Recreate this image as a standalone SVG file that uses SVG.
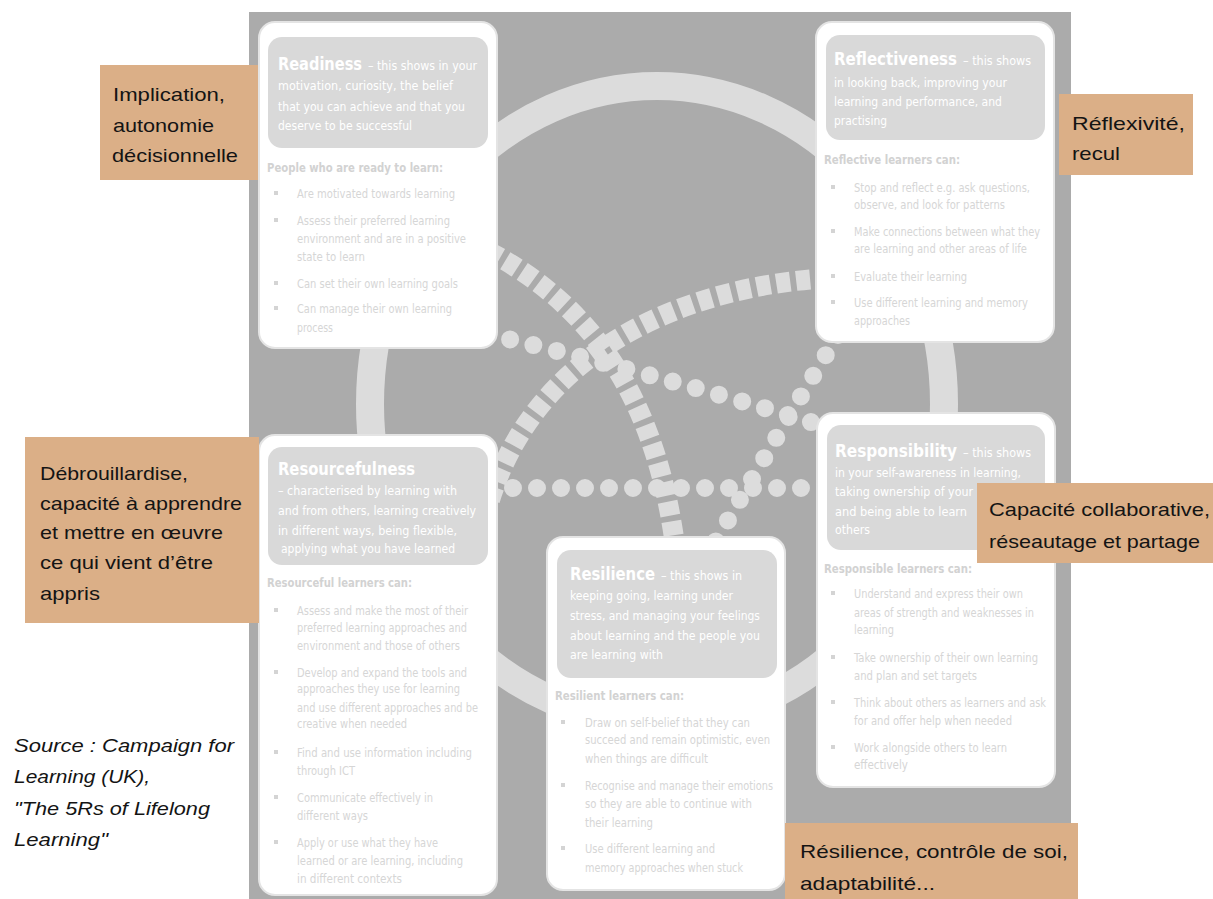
<svg xmlns="http://www.w3.org/2000/svg" width="1213" height="899" viewBox="0 0 1213 899">
<style>
.bg{fill:#ABABAB}
.ring{fill:none;stroke:#DCDCDC;stroke-width:28}
.sq{fill:none;stroke:#DCDCDC;stroke-width:20;stroke-dasharray:14 6}
.dot{fill:none;stroke:#DCDCDC;stroke-width:18;stroke-linecap:round;stroke-dasharray:0 24}
.card{fill:#FFFFFF;stroke:#E4E4E4;stroke-width:2}
.hdr{fill:#D9D9D9}
.bul{fill:#D4D4D4}
text{font-family:"Liberation Sans Narrow","DejaVu Sans Condensed","Liberation Sans",sans-serif}
.ttl{font-size:17px;font-weight:bold;fill:#FFFFFF}
.hd{font-size:13px;fill:#FFFFFF}
.sub{font-size:13px;font-weight:bold;fill:#D2D2D2}
.bl{font-size:12px;fill:#D6D6D6}
.lab{fill:#DBAF87}
.lt{font-family:"Liberation Sans",Arial,sans-serif;font-size:19px;fill:#141414}
.src{font-family:"Liberation Sans",Arial,sans-serif;font-size:19px;font-style:italic;fill:#141414}
</style>
<rect class="bg" x="249" y="12" width="822" height="887"/>
<g id="ring"><ellipse class="ring" cx="657" cy="404" rx="287" ry="318"/></g>
<g id="connectors">
<path class="sq" d="M470 242 C560 285 650 360 675 545"/>
<path class="sq" d="M830 278 C700 285 540 340 490 500"/>
<path class="dot" d="M487 334 Q650 372 830 428"/>
<path class="dot" d="M838 335 Q780 430 712 548"/>
<path class="dot" d="M489 488 L825 488"/>
</g>
<g id="readiness">
<rect class="card" x="259" y="22" width="238" height="326" rx="16"/>
<rect class="hdr" x="268" y="37" width="220" height="111" rx="14"/>
<text class="ttl" x="278" y="70" textLength="84" lengthAdjust="spacingAndGlyphs">Readiness</text>
<text class="hd" x="368" y="70" textLength="109" lengthAdjust="spacingAndGlyphs">– this shows in your</text>
<text class="hd" x="278" y="90" textLength="175" lengthAdjust="spacingAndGlyphs">motivation, curiosity, the belief</text>
<text class="hd" x="278" y="111" textLength="187" lengthAdjust="spacingAndGlyphs">that you can achieve and that you</text>
<text class="hd" x="278" y="130" textLength="134" lengthAdjust="spacingAndGlyphs">deserve to be successful</text>
<text class="sub" x="267" y="172" textLength="176" lengthAdjust="spacingAndGlyphs">People who are ready to learn:</text>
<rect class="bul" x="274" y="191" width="4" height="4"/>
<rect class="bul" x="274" y="218" width="4" height="4"/>
<rect class="bul" x="274" y="281" width="4" height="4"/>
<rect class="bul" x="274" y="306" width="4" height="4"/>
<text class="bl" x="297" y="198" textLength="158" lengthAdjust="spacingAndGlyphs">Are motivated towards learning</text>
<text class="bl" x="297" y="225" textLength="153" lengthAdjust="spacingAndGlyphs">Assess their preferred learning</text>
<text class="bl" x="297" y="243" textLength="169" lengthAdjust="spacingAndGlyphs">environment and are in a positive</text>
<text class="bl" x="297" y="261" textLength="68" lengthAdjust="spacingAndGlyphs">state to learn</text>
<text class="bl" x="297" y="288" textLength="161" lengthAdjust="spacingAndGlyphs">Can set their own learning goals</text>
<text class="bl" x="297" y="313" textLength="155" lengthAdjust="spacingAndGlyphs">Can manage their own learning</text>
<text class="bl" x="297" y="332" textLength="36" lengthAdjust="spacingAndGlyphs">process</text>
</g>
<g id="reflectiveness">
<rect class="card" x="816" y="22" width="238" height="320" rx="16"/>
<rect class="hdr" x="826" y="35" width="219" height="105" rx="14"/>
<text class="ttl" x="834" y="65" textLength="123" lengthAdjust="spacingAndGlyphs">Reflectiveness</text>
<text class="hd" x="963" y="65" textLength="68" lengthAdjust="spacingAndGlyphs">– this shows</text>
<text class="hd" x="834" y="87" textLength="173" lengthAdjust="spacingAndGlyphs">in looking back, improving your</text>
<text class="hd" x="834" y="106" textLength="168" lengthAdjust="spacingAndGlyphs">learning and performance, and</text>
<text class="hd" x="834" y="125" textLength="53" lengthAdjust="spacingAndGlyphs">practising</text>
<text class="sub" x="824" y="164" textLength="136" lengthAdjust="spacingAndGlyphs">Reflective learners can:</text>
<rect class="bul" x="831" y="185" width="4" height="4"/>
<rect class="bul" x="831" y="229" width="4" height="4"/>
<rect class="bul" x="831" y="274" width="4" height="4"/>
<rect class="bul" x="831" y="300" width="4" height="4"/>
<text class="bl" x="854" y="192" textLength="176" lengthAdjust="spacingAndGlyphs">Stop and reflect e.g. ask questions,</text>
<text class="bl" x="854" y="209" textLength="151" lengthAdjust="spacingAndGlyphs">observe, and look for patterns</text>
<text class="bl" x="854" y="236" textLength="186" lengthAdjust="spacingAndGlyphs">Make connections between what they</text>
<text class="bl" x="854" y="253" textLength="173" lengthAdjust="spacingAndGlyphs">are learning and other areas of life</text>
<text class="bl" x="854" y="281" textLength="113" lengthAdjust="spacingAndGlyphs">Evaluate their learning</text>
<text class="bl" x="854" y="307" textLength="174" lengthAdjust="spacingAndGlyphs">Use different learning and memory</text>
<text class="bl" x="854" y="325" textLength="56" lengthAdjust="spacingAndGlyphs">approaches</text>
</g>
<g id="resourcefulness">
<rect class="card" x="259" y="435" width="238" height="460" rx="16"/>
<rect class="hdr" x="268" y="447" width="220" height="118" rx="14"/>
<text class="ttl" x="278" y="475" textLength="137" lengthAdjust="spacingAndGlyphs">Resourcefulness</text>
<text class="hd" x="278" y="495" textLength="179" lengthAdjust="spacingAndGlyphs">– characterised by learning with</text>
<text class="hd" x="278" y="515" textLength="198" lengthAdjust="spacingAndGlyphs">and from others, learning creatively</text>
<text class="hd" x="278" y="535" textLength="179" lengthAdjust="spacingAndGlyphs">in different ways, being flexible,</text>
<text class="hd" x="281" y="553" textLength="174" lengthAdjust="spacingAndGlyphs">applying what you have learned</text>
<text class="sub" x="267" y="587" textLength="145" lengthAdjust="spacingAndGlyphs">Resourceful learners can:</text>
<rect class="bul" x="274" y="608" width="4" height="4"/>
<rect class="bul" x="274" y="670" width="4" height="4"/>
<rect class="bul" x="274" y="750" width="4" height="4"/>
<rect class="bul" x="274" y="795" width="4" height="4"/>
<rect class="bul" x="274" y="840" width="4" height="4"/>
<text class="bl" x="297" y="615" textLength="171" lengthAdjust="spacingAndGlyphs">Assess and make the most of their</text>
<text class="bl" x="297" y="632" textLength="170" lengthAdjust="spacingAndGlyphs">preferred learning approaches and</text>
<text class="bl" x="297" y="650" textLength="163" lengthAdjust="spacingAndGlyphs">environment and those of others</text>
<text class="bl" x="297" y="677" textLength="170" lengthAdjust="spacingAndGlyphs">Develop and expand the tools and</text>
<text class="bl" x="297" y="693" textLength="163" lengthAdjust="spacingAndGlyphs">approaches they use for learning</text>
<text class="bl" x="297" y="712" textLength="181" lengthAdjust="spacingAndGlyphs">and use different approaches and be</text>
<text class="bl" x="297" y="728" textLength="110" lengthAdjust="spacingAndGlyphs">creative when needed</text>
<text class="bl" x="297" y="757" textLength="175" lengthAdjust="spacingAndGlyphs">Find and use information including</text>
<text class="bl" x="297" y="775" textLength="58" lengthAdjust="spacingAndGlyphs">through ICT</text>
<text class="bl" x="297" y="802" textLength="136" lengthAdjust="spacingAndGlyphs">Communicate effectively in</text>
<text class="bl" x="297" y="820" textLength="71" lengthAdjust="spacingAndGlyphs">different ways</text>
<text class="bl" x="297" y="847" textLength="141" lengthAdjust="spacingAndGlyphs">Apply or use what they have</text>
<text class="bl" x="297" y="865" textLength="166" lengthAdjust="spacingAndGlyphs">learned or are learning, including</text>
<text class="bl" x="297" y="883" textLength="105" lengthAdjust="spacingAndGlyphs">in different contexts</text>
</g>
<g id="resilience">
<rect class="card" x="547" y="537" width="238" height="353" rx="16"/>
<rect class="hdr" x="557" y="550" width="220" height="128" rx="14"/>
<text class="ttl" x="570" y="580" textLength="85" lengthAdjust="spacingAndGlyphs">Resilience</text>
<text class="hd" x="661" y="580" textLength="81" lengthAdjust="spacingAndGlyphs">– this shows in</text>
<text class="hd" x="570" y="600" textLength="163" lengthAdjust="spacingAndGlyphs">keeping going, learning under</text>
<text class="hd" x="570" y="620" textLength="190" lengthAdjust="spacingAndGlyphs">stress, and managing your feelings</text>
<text class="hd" x="570" y="640" textLength="190" lengthAdjust="spacingAndGlyphs">about learning and the people you</text>
<text class="hd" x="570" y="659" textLength="93" lengthAdjust="spacingAndGlyphs">are learning with</text>
<text class="sub" x="555" y="700" textLength="129" lengthAdjust="spacingAndGlyphs">Resilient learners can:</text>
<rect class="bul" x="561" y="720" width="4" height="4"/>
<rect class="bul" x="561" y="783" width="4" height="4"/>
<rect class="bul" x="561" y="846" width="4" height="4"/>
<text class="bl" x="585" y="727" textLength="165" lengthAdjust="spacingAndGlyphs">Draw on self-belief that they can</text>
<text class="bl" x="585" y="744" textLength="185" lengthAdjust="spacingAndGlyphs">succeed and remain optimistic, even</text>
<text class="bl" x="585" y="763" textLength="123" lengthAdjust="spacingAndGlyphs">when things are difficult</text>
<text class="bl" x="585" y="790" textLength="188" lengthAdjust="spacingAndGlyphs">Recognise and manage their emotions</text>
<text class="bl" x="585" y="808" textLength="167" lengthAdjust="spacingAndGlyphs">so they are able to continue with</text>
<text class="bl" x="585" y="827" textLength="68" lengthAdjust="spacingAndGlyphs">their learning</text>
<text class="bl" x="585" y="853" textLength="130" lengthAdjust="spacingAndGlyphs">Use different learning and</text>
<text class="bl" x="585" y="872" textLength="158" lengthAdjust="spacingAndGlyphs">memory approaches when stuck</text>
</g>
<g id="responsibility">
<rect class="card" x="817" y="413" width="238" height="374" rx="16"/>
<rect class="hdr" x="827" y="425" width="218" height="125" rx="14"/>
<text class="ttl" x="835" y="457" textLength="122" lengthAdjust="spacingAndGlyphs">Responsibility</text>
<text class="hd" x="963" y="457" textLength="68" lengthAdjust="spacingAndGlyphs">– this shows</text>
<text class="hd" x="835" y="477" textLength="186" lengthAdjust="spacingAndGlyphs">in your self-awareness in learning,</text>
<text class="hd" x="835" y="496" textLength="138" lengthAdjust="spacingAndGlyphs">taking ownership of your</text>
<text class="hd" x="835" y="516" textLength="132" lengthAdjust="spacingAndGlyphs">and being able to learn</text>
<text class="hd" x="835" y="534" textLength="35" lengthAdjust="spacingAndGlyphs">others</text>
<text class="sub" x="824" y="573" textLength="148" lengthAdjust="spacingAndGlyphs">Responsible learners can:</text>
<rect class="bul" x="831" y="591" width="4" height="4"/>
<rect class="bul" x="831" y="655" width="4" height="4"/>
<rect class="bul" x="831" y="700" width="4" height="4"/>
<rect class="bul" x="831" y="745" width="4" height="4"/>
<text class="bl" x="854" y="598" textLength="169" lengthAdjust="spacingAndGlyphs">Understand and express their own</text>
<text class="bl" x="854" y="617" textLength="180" lengthAdjust="spacingAndGlyphs">areas of strength and weaknesses in</text>
<text class="bl" x="854" y="634" textLength="40" lengthAdjust="spacingAndGlyphs">learning</text>
<text class="bl" x="854" y="662" textLength="184" lengthAdjust="spacingAndGlyphs">Take ownership of their own learning</text>
<text class="bl" x="854" y="680" textLength="123" lengthAdjust="spacingAndGlyphs">and plan and set targets</text>
<text class="bl" x="854" y="707" textLength="192" lengthAdjust="spacingAndGlyphs">Think about others as learners and ask</text>
<text class="bl" x="854" y="725" textLength="158" lengthAdjust="spacingAndGlyphs">for and offer help when needed</text>
<text class="bl" x="854" y="752" textLength="153" lengthAdjust="spacingAndGlyphs">Work alongside others to learn</text>
<text class="bl" x="854" y="769" textLength="54" lengthAdjust="spacingAndGlyphs">effectively</text>
</g>
<g id="label-implication">
<rect class="lab" x="100" y="65" width="158" height="115"/>
<text class="lt" x="113" y="101" textLength="112" lengthAdjust="spacingAndGlyphs">Implication,</text>
<text class="lt" x="113" y="132" textLength="101" lengthAdjust="spacingAndGlyphs">autonomie</text>
<text class="lt" x="112" y="162" textLength="126" lengthAdjust="spacingAndGlyphs">décisionnelle</text>
</g>
<g id="label-reflexivite">
<rect class="lab" x="1059" y="94" width="134" height="81"/>
<text class="lt" x="1072" y="130" textLength="113" lengthAdjust="spacingAndGlyphs">Réflexivité,</text>
<text class="lt" x="1072" y="160" textLength="48" lengthAdjust="spacingAndGlyphs">recul</text>
</g>
<g id="label-debrouillardise">
<rect class="lab" x="25" y="437" width="234" height="186"/>
<text class="lt" x="40" y="480" textLength="148" lengthAdjust="spacingAndGlyphs">Débrouillardise,</text>
<text class="lt" x="40" y="510" textLength="202" lengthAdjust="spacingAndGlyphs">capacité à apprendre</text>
<text class="lt" x="40" y="539" textLength="183" lengthAdjust="spacingAndGlyphs">et mettre en œuvre</text>
<text class="lt" x="40" y="569" textLength="173" lengthAdjust="spacingAndGlyphs">ce qui vient d’être</text>
<text class="lt" x="40" y="600" textLength="60" lengthAdjust="spacingAndGlyphs">appris</text>
</g>
<g id="label-capacite">
<rect class="lab" x="977" y="483" width="236" height="80"/>
<text class="lt" x="989" y="516" textLength="221" lengthAdjust="spacingAndGlyphs">Capacité collaborative,</text>
<text class="lt" x="989" y="548" textLength="211" lengthAdjust="spacingAndGlyphs">réseautage et partage</text>
</g>
<g id="label-resilience">
<rect class="lab" x="785" y="823" width="293" height="76"/>
<text class="lt" x="800" y="858" textLength="268" lengthAdjust="spacingAndGlyphs">Résilience, contrôle de soi,</text>
<text class="lt" x="800" y="890" textLength="135" lengthAdjust="spacingAndGlyphs">adaptabilité...</text>
</g>
<g id="source">
<text class="src" x="14" y="752" textLength="220" lengthAdjust="spacingAndGlyphs">Source : Campaign  for</text>
<text class="src" x="14" y="783" textLength="136" lengthAdjust="spacingAndGlyphs">Learning (UK),</text>
<text class="src" x="14" y="815" textLength="196" lengthAdjust="spacingAndGlyphs">"The 5Rs of Lifelong</text>
<text class="src" x="14" y="846" textLength="94" lengthAdjust="spacingAndGlyphs">Learning"</text>
</g>
</svg>
